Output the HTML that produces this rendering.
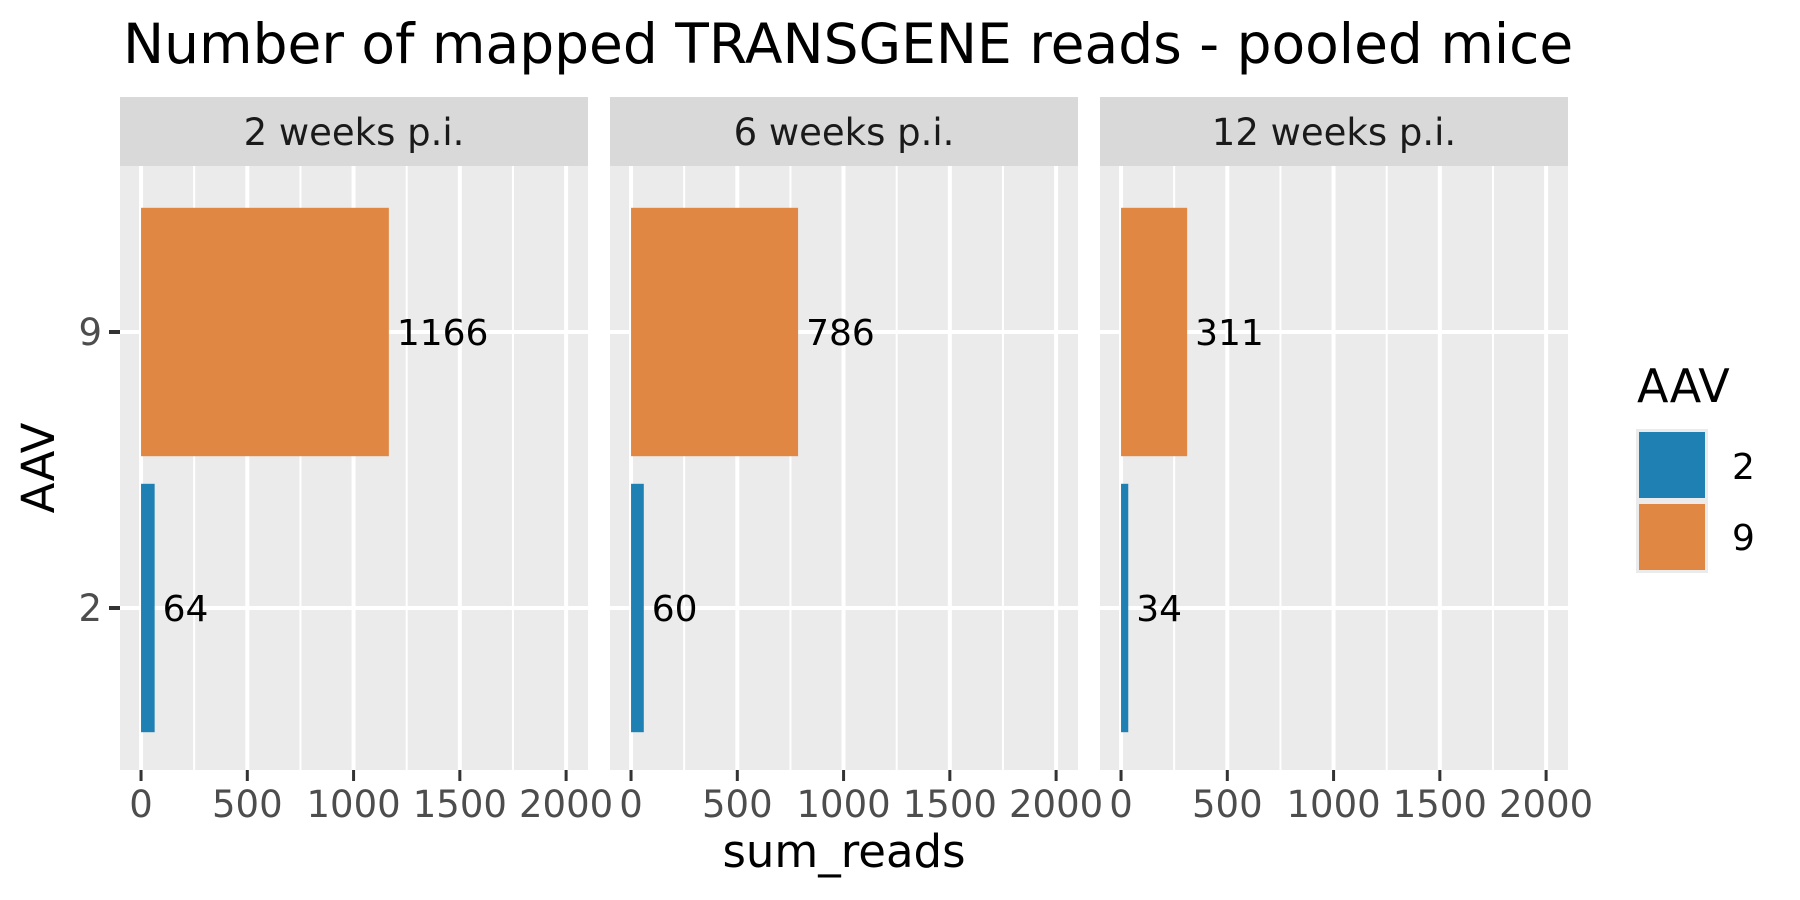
<!DOCTYPE html>
<html><head><meta charset="utf-8"><style>
html,body{margin:0;padding:0;background:#fff;}
svg{display:block;font-family:"DejaVu Sans","Liberation Sans",sans-serif;}
</style></head><body>
<svg id="chart" width="1800" height="900" viewBox="0 0 1800 900" xmlns="http://www.w3.org/2000/svg">
<text x="123" y="63" font-size="55" fill="#000">Number of mapped TRANSGENE reads - pooled mice</text>
<text x="844" y="867" font-size="45" text-anchor="middle" fill="#000">sum_reads</text>
<text transform="translate(54,468) rotate(-90)" font-size="45" text-anchor="middle" fill="#000">AAV</text>
<g id="panels"></g>
<g>
<text x="1637" y="402" font-size="46" fill="#000">AAV</text>
<rect x="1636" y="429" width="72" height="144" fill="#EBEBEB"/>
<rect x="1639" y="432" width="66" height="66" fill="#1F81B3"/>
<rect x="1639" y="504" width="66" height="66" fill="#E08744"/>
<text x="1732" y="479" font-size="36" fill="#000">2</text>
<text x="1732" y="550" font-size="36" fill="#000">9</text>
</g>
</svg>
<script>
const facets = ["2 weeks p.i.", "6 weeks p.i.", "12 weeks p.i."];
const categories = ["2", "9"];
const aav2Values = [64, 60, 34];
const aav9Values = [1166, 786, 311];
const xTicks = [0, 500, 1000, 1500, 2000];
const xTickLabels = ["0", "500", "1000", "1500", "2000"];

const NS = "http://www.w3.org/2000/svg";
const panelLefts = [120, 610, 1100];
const panelW = 468, pTop = 166, pBot = 770, stripTop = 97;
const xMin = -99, xMax = 2103;
const colors = {"2": "#1F81B3", "9": "#E08744"};
function mk(tag, attrs, parent) {
  const e = document.createElementNS(NS, tag);
  for (const k in attrs) e.setAttribute(k, attrs[k]);
  parent.appendChild(e);
  return e;
}
const catStep = 276;
function yScale(i) { return 608 - i * catStep; }
const root = document.getElementById('panels');
facets.forEach((f, p) => {
  const L = panelLefts[p];
  const xs = v => L + (v - xMin) / (xMax - xMin) * panelW;
  const g = mk('g', {}, root);
  
  
  const bg = mk('rect', {x: L, y: pTop, width: panelW, height: pBot - pTop, fill: '#EBEBEB'}, g);
  
  
  const strip = mk('rect', {x: L, y: stripTop, width: panelW, height: pTop - stripTop, fill: '#D9D9D9'}, g);
  
  
  const st = mk('text', {x: L + panelW / 2, y: 145, 'font-size': 37, 'text-anchor': 'middle', fill: '#1A1A1A'}, g);
  st.textContent = f;
  
  
  for (let i = 0; i < xTicks.length - 1; i++) {
    const mx = xs((xTicks[i] + xTicks[i + 1]) / 2);
    const ml = mk('line', {x1: mx, x2: mx, y1: pTop, y2: pBot, stroke: '#fff', 'stroke-width': 2}, g);
    
    
  }
  xTicks.forEach((t, i) => {
    const x = xs(t);
    const gl = mk('line', {x1: x, x2: x, y1: pTop, y2: pBot, stroke: '#fff', 'stroke-width': 4}, g);
    
    
    const tk = mk('line', {x1: x, x2: x, y1: pBot, y2: pBot + 11, stroke: '#333', 'stroke-width': 3}, g);
    
    
    const tl = mk('text', {x: x, y: 817, 'font-size': 37, 'text-anchor': 'middle', fill: '#4D4D4D'}, g);
    tl.textContent = xTickLabels[i];
    
    
  });
  categories.forEach((c, ci) => {
    const y = yScale(ci);
    const hl = mk('line', {x1: L, x2: L + panelW, y1: y, y2: y, stroke: '#fff', 'stroke-width': 4}, g);
    
    
    if (p === 0) {
      const tk = mk('line', {x1: L - 11, x2: L, y1: y, y2: y, stroke: '#333', 'stroke-width': 4}, g);
      
      
      const tl = mk('text', {x: L - 18, y: y + 13, 'font-size': 37, 'text-anchor': 'end', fill: '#4D4D4D'}, g);
      tl.textContent = c;
      
      
    }
    const v = (c === "2" ? aav2Values : aav9Values)[p];
    const bh = catStep * 0.9;
    const x0 = xs(0), x1 = xs(v);
    const bar = mk('rect', {x: x0, y: y - bh / 2, width: x1 - x0, height: bh, fill: colors[c]}, g);
    
    
    const lb = mk('text', {x: x1 + 8, y: y + 13, 'font-size': 36, fill: '#000'}, g);
    lb.textContent = String(v);
    
    
  });
});
</script>
</body></html>
